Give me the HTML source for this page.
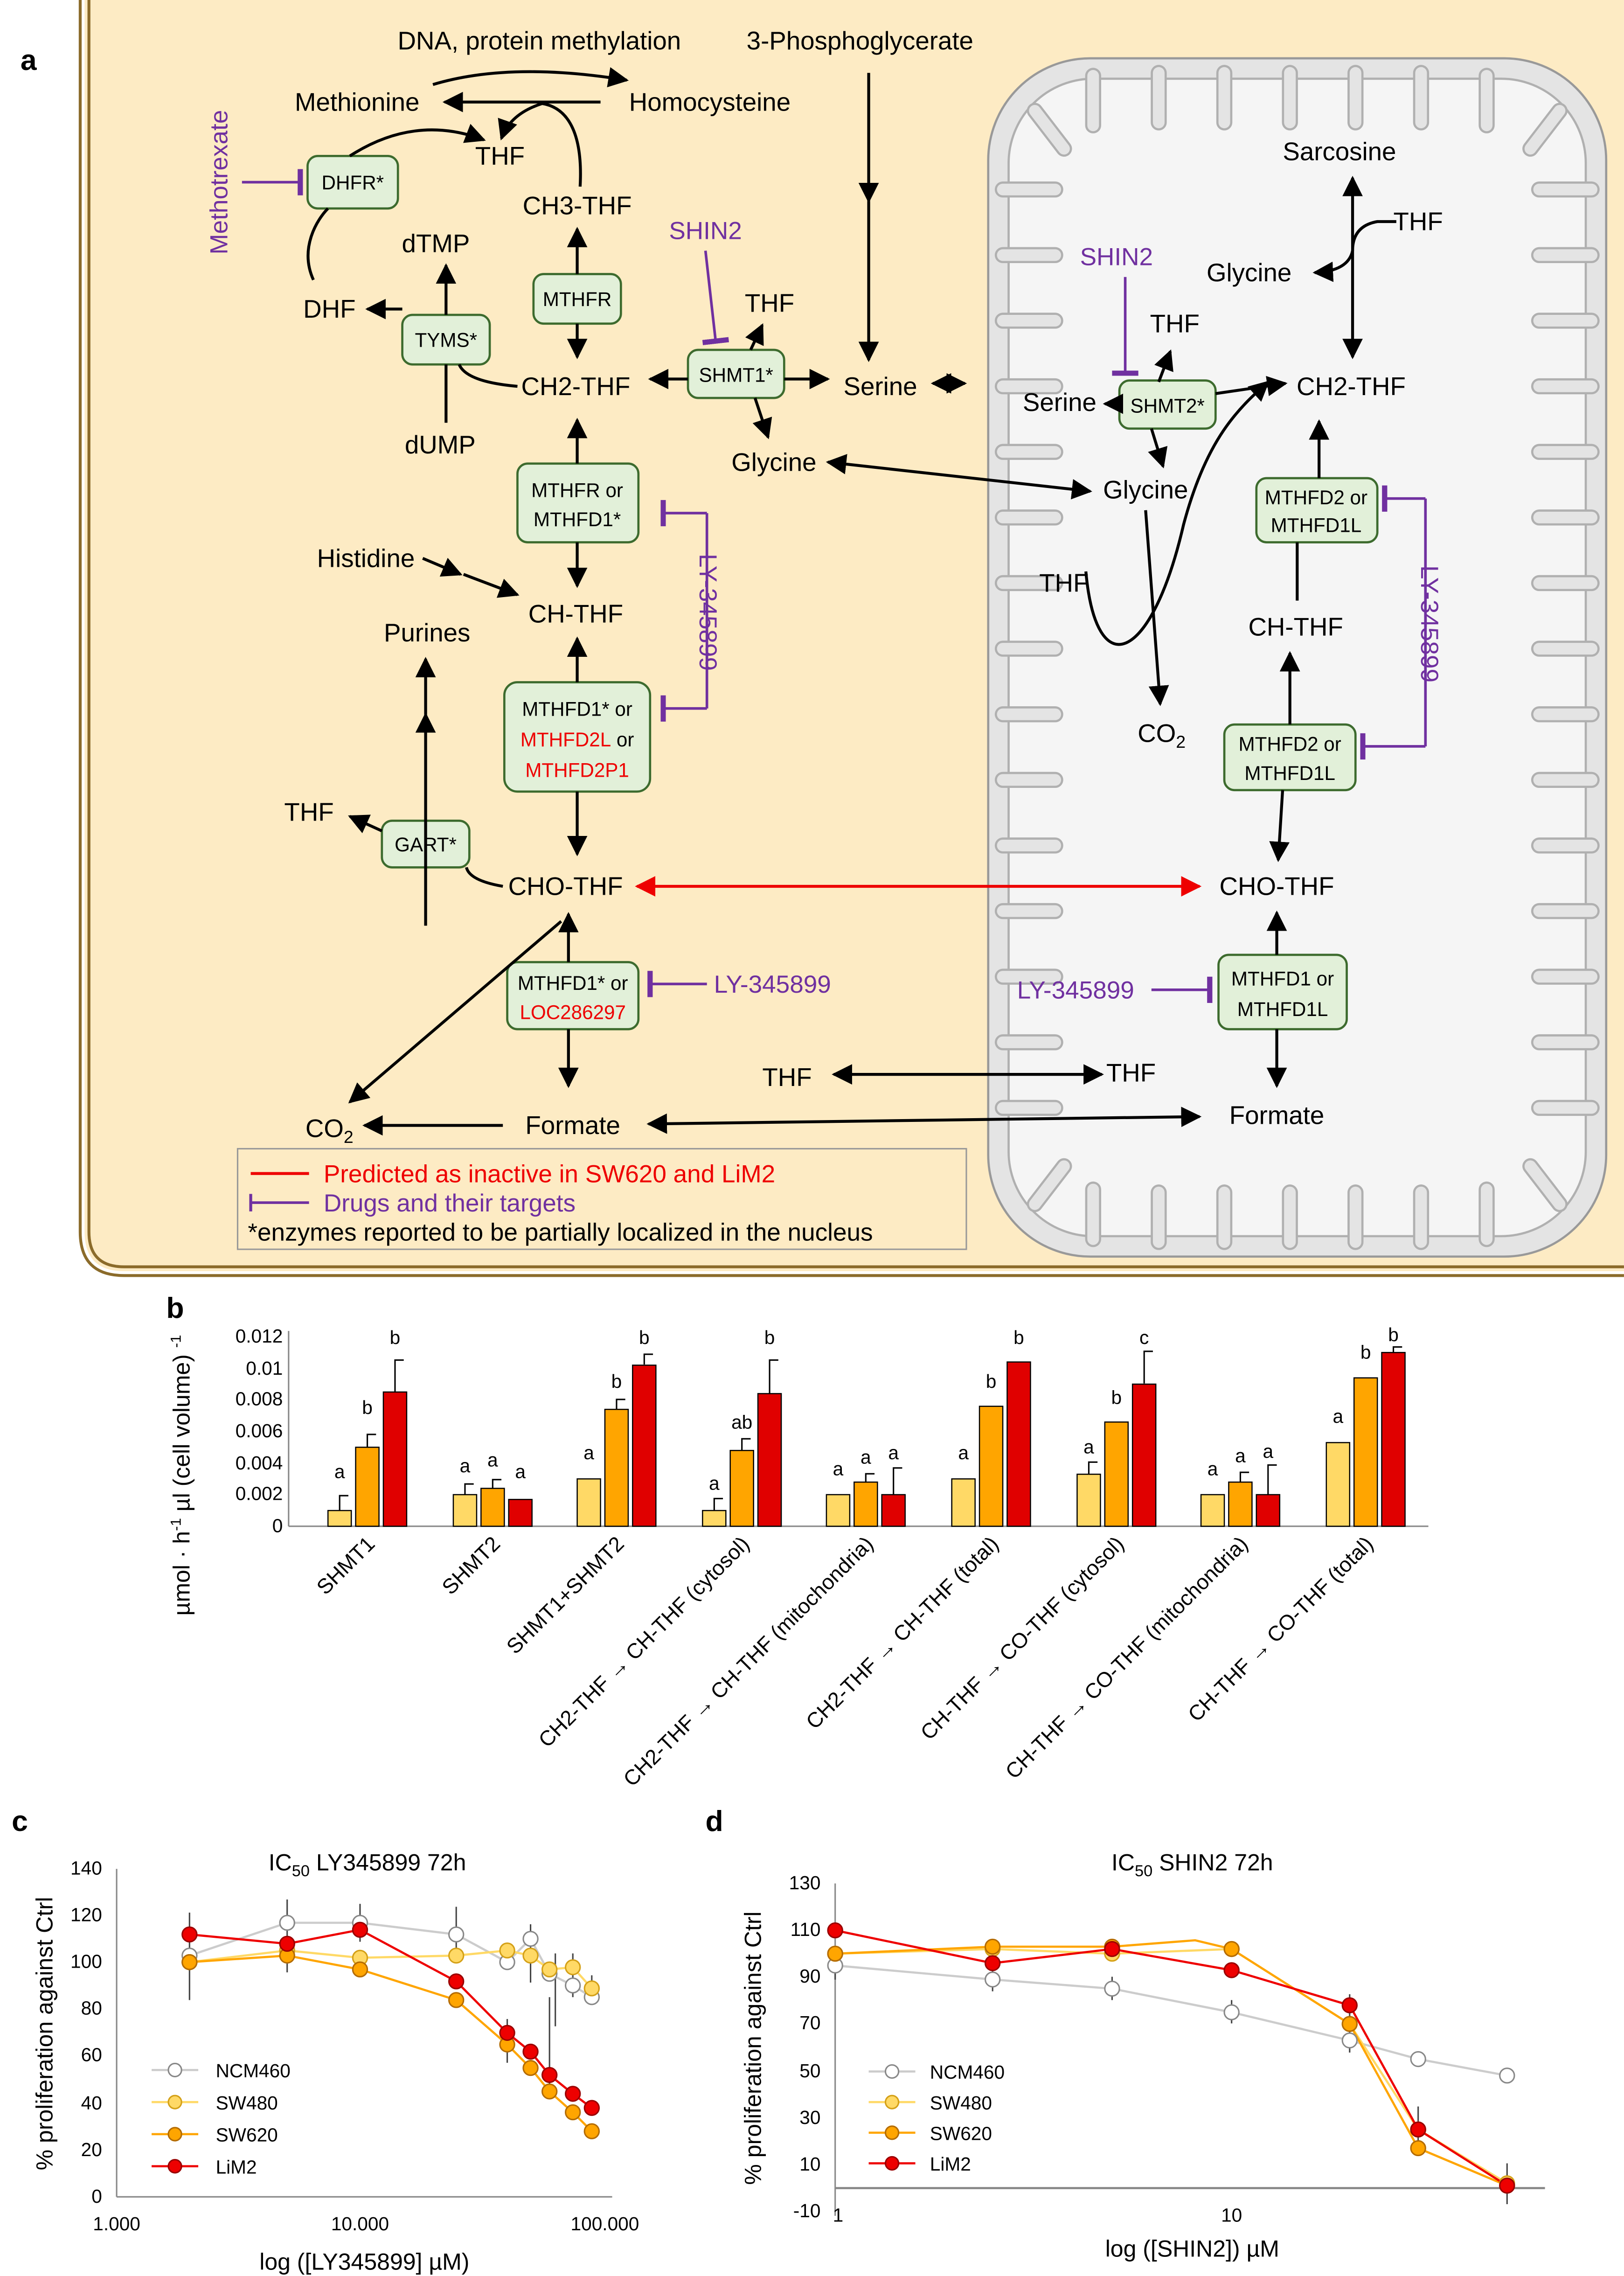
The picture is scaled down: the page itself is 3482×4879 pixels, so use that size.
<!DOCTYPE html>
<html><head><meta charset="utf-8"><style>html,body{margin:0;padding:0;background:#fff}svg{display:block}</style></head>
<body>
<svg xmlns="http://www.w3.org/2000/svg" width="3482" height="4879" viewBox="0 0 1114.2 1561.3" font-family="'Liberation Sans', sans-serif">
<defs>
<marker id="ar" viewBox="0 0 10 10" refX="9" refY="5" markerWidth="7" markerHeight="7" orient="auto-start-reverse"><path d="M0,0L10,5L0,10z" fill="#000"/></marker>
<marker id="arr" viewBox="0 0 10 10" refX="9" refY="5" markerWidth="7" markerHeight="7" orient="auto-start-reverse"><path d="M0,0L10,5L0,10z" fill="#e00"/></marker>
<marker id="bar" viewBox="0 0 4 20" refX="2" refY="10" markerWidth="2" markerHeight="12" orient="auto"><rect x="0" y="0" width="4" height="20" fill="#7030a0"/></marker>
<path id="cr" fill="none" stroke-linecap="round" d="M688,130h36M688,175h36M688,220h36M688,265h36M688,310h36M688,355h36M688,400h36M688,445h36M688,490h36M688,535h36M688,580h36M688,625h36M688,670h36M688,715h36M688,760h36
M1092,130h-36M1092,175h-36M1092,220h-36M1092,265h-36M1092,310h-36M1092,355h-36M1092,400h-36M1092,445h-36M1092,490h-36M1092,535h-36M1092,580h-36M1092,625h-36M1092,670h-36M1092,715h-36M1092,760h-36
M710,76l20,26M750,52v34M795,50v34M840,50v34M885,50v34M930,50v34M975,50v34M1020,52v34M1070,76l-20,26
M710,826l20,-26M750,850v-34M795,852v-34M840,852v-34M885,852v-34M930,852v-34M975,852v-34M1020,850v-34M1070,826l-20,-26"/>
</defs>
<rect width="1114.2" height="1561.3" fill="#fff"/>
<!-- cell -->
<path d="M58,0 V845 Q58,872 85,872 H1114.2 V0 Z" fill="#fdebc4"/>
<path d="M55,0 V845 Q55,875 85,875 H1114.2" fill="none" stroke="#8b6b2a" stroke-width="2"/>
<path d="M61,0 V845 Q61,869 85,869 H1114.2" fill="none" stroke="#8b6b2a" stroke-width="2"/>
<text x="14" y="48" font-size="20" font-weight="bold">a</text>
<!-- mitochondrion -->
<rect x="678" y="40" width="424" height="822" rx="70" fill="#e4e4e4" stroke="#999" stroke-width="1.5"/>
<rect x="692" y="54" width="396" height="794" rx="58" fill="#f5f5f5" stroke="#b0b0b0" stroke-width="1.5"/>
<use href="#cr" stroke="#b0b0b0" stroke-width="11"/>
<use href="#cr" stroke="#e4e4e4" stroke-width="8"/>
<g font-size="17.5" text-anchor="middle" fill="#000">
<text x="370" y="34">DNA, protein methylation</text>
<text x="590" y="34">3-Phosphoglycerate</text>
<text x="245" y="76">Methionine</text>
<text x="487" y="76">Homocysteine</text>
<text x="343" y="113">THF</text>
<text x="396" y="147">CH3-THF</text>
<text x="299" y="173">dTMP</text>
<text x="226" y="218">DHF</text>
<text x="395" y="271">CH2-THF</text>
<text x="302" y="311">dUMP</text>
<text x="528" y="214">THF</text>
<text x="604" y="271">Serine</text>
<text x="531" y="323">Glycine</text>
<text x="251" y="389">Histidine</text>
<text x="395" y="427">CH-THF</text>
<text x="293" y="440">Purines</text>
<text x="212" y="563">THF</text>
<text x="388" y="614">CHO-THF</text>
<text x="540" y="745">THF</text>
<text x="226" y="780">CO<tspan font-size="12" dy="4">2</tspan></text>
<text x="393" y="778">Formate</text>
<text x="919" y="110">Sarcosine</text>
<text x="973" y="158">THF</text>
<text x="857" y="193">Glycine</text>
<text x="806" y="228">THF</text>
<text x="727" y="282">Serine</text>
<text x="927" y="271">CH2-THF</text>
<text x="786" y="342">Glycine</text>
<text x="730" y="406">THF</text>
<text x="889" y="436">CH-THF</text>
<text x="797" y="509">CO<tspan font-size="12" dy="4">2</tspan></text>
<text x="876" y="614">CHO-THF</text>
<text x="776" y="742">THF</text>
<text x="876" y="771">Formate</text>
</g>
<g font-size="17" fill="#7030a0" text-anchor="middle">
<text x="484" y="164">SHIN2</text>
<text x="766" y="182">SHIN2</text>
<text transform="translate(156,125) rotate(-90)">Methotrexate</text>
<text transform="translate(480,420) rotate(90)">LY-345899</text>
<text transform="translate(975,428) rotate(90)">LY-345899</text>
<text x="530" y="681">LY-345899</text>
<text x="738" y="685">LY-345899</text>
</g>
<!-- enzyme boxes -->
<g fill="#e2f0d9" stroke="#3d6b2e" stroke-width="1.5">
<rect x="211" y="107" width="62" height="36" rx="7"/>
<rect x="276" y="216" width="60" height="34" rx="7"/>
<rect x="366" y="188" width="60" height="34" rx="7"/>
<rect x="472" y="240" width="66" height="33" rx="7"/>
<rect x="355" y="318" width="83" height="54" rx="7"/>
<rect x="346" y="468" width="100" height="75" rx="9"/>
<rect x="262" y="563" width="60" height="32" rx="7"/>
<rect x="348" y="660" width="90" height="46" rx="7"/>
<rect x="768" y="261" width="66" height="33" rx="7"/>
<rect x="862" y="328" width="83" height="44" rx="7"/>
<rect x="840" y="497" width="90" height="45" rx="7"/>
<rect x="836" y="655" width="88" height="51" rx="7"/>
</g>
<g font-size="13.5" text-anchor="middle" fill="#000">
<text x="242" y="130">DHFR*</text>
<text x="306" y="238">TYMS*</text>
<text x="396" y="210">MTHFR</text>
<text x="505" y="262">SHMT1*</text>
<text x="396" y="341">MTHFR or</text><text x="396" y="361">MTHFD1*</text>
<text x="396" y="491">MTHFD1* or</text>
<text x="396" y="512"><tspan fill="#e00">MTHFD2L</tspan> or</text>
<text x="396" y="533" fill="#e00">MTHFD2P1</text>
<text x="292" y="584">GART*</text>
<text x="393" y="679">MTHFD1* or</text><text x="393" y="699" fill="#e00">LOC286297</text>
<text x="801" y="283">SHMT2*</text>
<text x="903" y="346">MTHFD2 or</text><text x="903" y="365">MTHFD1L</text>
<text x="885" y="515">MTHFD2 or</text><text x="885" y="535">MTHFD1L</text>
<text x="880" y="676">MTHFD1 or</text><text x="880" y="697">MTHFD1L</text>
</g>
<!-- arrows -->
<g stroke="#000" stroke-width="2" fill="none">
<path d="M297,58 Q350,42 430,55" marker-end="url(#ar)"/>
<path d="M412,70 H305" marker-end="url(#ar)"/>
<path d="M398,128 C400,92 390,74 372,71"/>
<path d="M372,71 Q350,78 344,95" marker-end="url(#ar)"/>
<path d="M240,107 Q285,78 332,96" marker-end="url(#ar)"/>
<path d="M215,192 C205,170 218,150 225,143"/>
<path d="M396,188 V157" marker-end="url(#ar)"/>
<path d="M396,222 V245" marker-end="url(#ar)"/>
<path d="M306,216 V182" marker-end="url(#ar)"/>
<path d="M306,250 V290"/>
<path d="M276,212 H252" marker-end="url(#ar)"/>
<path d="M355,265 Q320,262 315,250"/>
<path d="M472,260 H446" marker-end="url(#ar)"/>
<path d="M538,260 H568" marker-end="url(#ar)"/>
<path d="M515,240 L523,223" marker-end="url(#ar)"/>
<path d="M518,273 L527,300" marker-end="url(#ar)"/>
<path d="M640,263 H662" marker-start="url(#ar)" marker-end="url(#ar)"/>
<path d="M596,50 V138" marker-end="url(#ar)"/>
<path d="M596,138 V247" marker-end="url(#ar)"/>
<path d="M396,318 V288" marker-end="url(#ar)"/>
<path d="M396,372 V402" marker-end="url(#ar)"/>
<path d="M290,383 L316,394" marker-end="url(#ar)"/>
<path d="M318,394 L355,408" marker-end="url(#ar)"/>
<path d="M396,468 V438" marker-end="url(#ar)"/>
<path d="M396,543 V586" marker-end="url(#ar)"/>
<path d="M292,635 V490" marker-end="url(#ar)"/>
<path d="M292,490 V452" marker-end="url(#ar)"/>
<path d="M262,570 L240,560" marker-end="url(#ar)"/>
<path d="M345,608 Q322,604 320,595"/>
<path d="M390,660 V627" marker-end="url(#ar)"/>
<path d="M390,706 V745" marker-end="url(#ar)"/>
<path d="M385,632 L240,756" marker-end="url(#ar)"/>
<path d="M345,772 H250" marker-end="url(#ar)"/>
<path d="M445,771 L823,766" marker-start="url(#ar)" marker-end="url(#ar)"/>
<path d="M572,737 H756" marker-start="url(#ar)" marker-end="url(#ar)"/>
<path d="M928,122 V245" marker-start="url(#ar)" marker-end="url(#ar)"/>
<path d="M958,152 H945 Q928,155 928,172 Q925,186 902,187" marker-end="url(#ar)"/>
<path d="M795,262 L803,241" marker-end="url(#ar)"/>
<path d="M768,277 H758" marker-end="url(#ar)"/>
<path d="M834,270 L882,263" marker-end="url(#ar)"/>
<path d="M790,294 L798,320" marker-end="url(#ar)"/>
<path d="M568,317 L748,337" marker-start="url(#ar)" marker-end="url(#ar)"/>
<path d="M745,392 C752,470 790,455 812,360 C828,300 850,280 870,262" marker-end="url(#ar)"/>
<path d="M786,350 L796,483" marker-end="url(#ar)"/>
<path d="M905,328 V289" marker-end="url(#ar)"/>
<path d="M890,372 V412"/>
<path d="M885,497 V448" marker-end="url(#ar)"/>
<path d="M880,542 L877,590" marker-end="url(#ar)"/>
<path d="M876,655 V626" marker-end="url(#ar)"/>
<path d="M876,706 V745" marker-end="url(#ar)"/>
</g>
<path d="M437,608 H823" stroke="#e00" stroke-width="2" fill="none" marker-start="url(#arr)" marker-end="url(#arr)"/>
<g stroke="#7030a0" stroke-width="1.8" fill="none">
<path d="M166,125 H206" marker-end="url(#bar)"/>
<path d="M484,172 L491,234" marker-end="url(#bar)"/>
<path d="M772,190 L772,256" marker-end="url(#bar)"/>
<path d="M485,352 H455" marker-end="url(#bar)"/>
<path d="M485,352 V486"/>
<path d="M485,486 H455" marker-end="url(#bar)"/>
<path d="M485,675 H446" marker-end="url(#bar)"/>
<path d="M978,342 H950" marker-end="url(#bar)"/>
<path d="M978,342 V512"/>
<path d="M978,512 H935" marker-end="url(#bar)"/>
<path d="M790,679 H830" marker-end="url(#bar)"/>
</g>
<!-- legend -->
<rect x="163" y="788" width="500" height="69" fill="#fdebc4" stroke="#999" stroke-width="1"/>
<line x1="172" y1="805" x2="212" y2="805" stroke="#e00" stroke-width="2"/>
<text x="222" y="811" font-size="17" fill="#e00">Predicted as inactive in SW620 and LiM2</text>
<line x1="172" y1="825" x2="212" y2="825" stroke="#7030a0" stroke-width="1.8"/><line x1="172" y1="819" x2="172" y2="831" stroke="#7030a0" stroke-width="2"/>
<text x="222" y="831" font-size="17" fill="#7030a0">Drugs and their targets</text>
<text x="170" y="851" font-size="17">*enzymes reported to be partially localized in the nucleus</text>

<!-- panel b -->
<text x="114" y="904" font-size="20" font-weight="bold">b</text>
<text transform="translate(130,1012) rotate(-90)" font-size="16" text-anchor="middle">µmol · h<tspan font-size="10" dy="-6">-1</tspan><tspan dy="6"> µl (cell volume) </tspan><tspan font-size="10" dy="-6">-1</tspan></text>
<g font-size="13" text-anchor="end">
<text x="194" y="921">0.012</text><text x="194" y="943">0.01</text><text x="194" y="964">0.008</text><text x="194" y="986">0.006</text><text x="194" y="1008">0.004</text><text x="194" y="1029">0.002</text><text x="194" y="1051">0</text>
</g>
<line x1="198" y1="913" x2="198" y2="1047" stroke="#888"/>
<line x1="198" y1="1047" x2="980" y2="1047" stroke="#888"/>
<g stroke="#000" stroke-width="0.8">
<rect x="225" y="1036.2" width="16" height="10.8" fill="#ffd966"/><rect x="244" y="992.8" width="16" height="54.2" fill="#ffa500"/><rect x="263" y="954.9" width="16" height="92.1" fill="#e00000"/>
<rect x="311" y="1025.3" width="16" height="21.7" fill="#ffd966"/><rect x="330" y="1021" width="16" height="26" fill="#ffa500"/><rect x="349" y="1028.6" width="16" height="18.4" fill="#e00000"/>
<rect x="396" y="1014.5" width="16" height="32.5" fill="#ffd966"/><rect x="415" y="966.8" width="16" height="80.2" fill="#ffa500"/><rect x="434" y="936.5" width="16" height="110.5" fill="#e00000"/>
<rect x="482" y="1036.2" width="16" height="10.8" fill="#ffd966"/><rect x="501" y="995" width="16" height="52" fill="#ffa500"/><rect x="520" y="956" width="16" height="91" fill="#e00000"/>
<rect x="567" y="1025.3" width="16" height="21.7" fill="#ffd966"/><rect x="586" y="1016.7" width="16" height="30.3" fill="#ffa500"/><rect x="605" y="1025.3" width="16" height="21.7" fill="#e00000"/>
<rect x="653" y="1014.5" width="16" height="32.5" fill="#ffd966"/><rect x="672" y="964.7" width="16" height="82.3" fill="#ffa500"/><rect x="691" y="934.3" width="16" height="112.7" fill="#e00000"/>
<rect x="739" y="1011.3" width="16" height="35.7" fill="#ffd966"/><rect x="758" y="975.5" width="16" height="71.5" fill="#ffa500"/><rect x="777" y="949.5" width="16" height="97.5" fill="#e00000"/>
<rect x="824" y="1025.3" width="16" height="21.7" fill="#ffd966"/><rect x="843" y="1016.7" width="16" height="30.3" fill="#ffa500"/><rect x="862" y="1025.3" width="16" height="21.7" fill="#e00000"/>
<rect x="910" y="989.6" width="16" height="57.4" fill="#ffd966"/><rect x="929" y="945.2" width="16" height="101.8" fill="#ffa500"/><rect x="948" y="927.8" width="16" height="119.2" fill="#e00000"/>
</g>
<g stroke="#000" stroke-width="1" fill="none">
<path d="M233,1036v-10h6M252,993v-9h6M271,955v-22h6M319,1025v-7h6M338,1021v-6h6M423,967v-7h6M442,936v-7h6M490,1036v-8h6M509,995v-8h6M528,956v-23h6M594,1017v-6h6M613,1025v-18h6M747,1011v-8h6M785,949v-22h6M851,1017v-7h6M870,1025v-20h6M956,928v-4h6"/>
</g>
<g font-size="13" text-anchor="middle">
<text x="233" y="1014">a</text><text x="252" y="970">b</text><text x="271" y="922">b</text>
<text x="319" y="1010">a</text><text x="338" y="1006">a</text><text x="357" y="1014">a</text>
<text x="404" y="1001">a</text><text x="423" y="952">b</text><text x="442" y="922">b</text>
<text x="490" y="1022">a</text><text x="509" y="980">ab</text><text x="528" y="922">b</text>
<text x="575" y="1012">a</text><text x="594" y="1004">a</text><text x="613" y="1001">a</text>
<text x="661" y="1001">a</text><text x="680" y="952">b</text><text x="699" y="922">b</text>
<text x="747" y="997">a</text><text x="766" y="963">b</text><text x="785" y="922">c</text>
<text x="832" y="1012">a</text><text x="851" y="1003">a</text><text x="870" y="1000">a</text>
<text x="918" y="976">a</text><text x="937" y="932">b</text><text x="956" y="920">b</text>
</g>
<g font-size="14.5" text-anchor="end">
<text transform="translate(258,1060) rotate(-45)">SHMT1</text>
<text transform="translate(344,1060) rotate(-45)">SHMT2</text>
<text transform="translate(429,1060) rotate(-45)">SHMT1+SHMT2</text>
<text transform="translate(515,1060) rotate(-45)">CH2-THF → CH-THF (cytosol)</text>
<text transform="translate(600,1060) rotate(-45)">CH2-THF → CH-THF (mitochondria)</text>
<text transform="translate(686,1060) rotate(-45)">CH2-THF → CH-THF (total)</text>
<text transform="translate(772,1060) rotate(-45)">CH-THF → CO-THF (cytosol)</text>
<text transform="translate(857,1060) rotate(-45)">CH-THF → CO-THF (mitochondria)</text>
<text transform="translate(943,1060) rotate(-45)">CH-THF → CO-THF (total)</text>
</g>

<!-- panel c -->
<text x="8" y="1256" font-size="20" font-weight="bold">c</text>
<text x="252" y="1283" font-size="16" text-anchor="middle">IC<tspan font-size="11" dy="4">50</tspan><tspan dy="-4"> LY345899 72h</tspan></text>
<text transform="translate(36,1395) rotate(-90)" font-size="16" text-anchor="middle">% proliferation against Ctrl</text>
<g font-size="13" text-anchor="end">
<text x="70" y="1286">140</text><text x="70" y="1318">120</text><text x="70" y="1350">100</text><text x="70" y="1382">80</text><text x="70" y="1414">60</text><text x="70" y="1447">40</text><text x="70" y="1479">20</text><text x="70" y="1511">0</text>
</g>
<line x1="80" y1="1282" x2="80" y2="1507" stroke="#888"/><line x1="80" y1="1507" x2="420" y2="1507" stroke="#888"/>
<g font-size="13" text-anchor="middle"><text x="80" y="1530">1.000</text><text x="247" y="1530">10.000</text><text x="415" y="1530">100.000</text></g>
<text x="250" y="1557" font-size="16" text-anchor="middle">log ([LY345899] µM)</text>
<g fill="none" stroke-width="1.5">
<polyline stroke="#ccc" points="130,1341.5 197,1319 247,1319 313,1327 348,1346 364,1330 377,1354 393,1362 406,1370"/>
<polyline stroke="#ffd966" points="130,1346 197,1338 247,1343 313,1341.5 348,1338 364,1341.5 377,1351 393,1349.5 406,1364"/>
<polyline stroke="#ffa500" points="130,1346 197,1341.5 247,1351 313,1372 348,1402.5 364,1418.6 377,1434.7 393,1449 406,1462"/>
<polyline stroke="#e00" points="130,1327 197,1333.4 247,1323.8 313,1359.2 348,1394.5 364,1407.4 377,1423.4 393,1436.3 406,1446"/>
<path stroke="#444" stroke-width="1" d="M130,1312v60M197,1303v50M247,1306v26M313,1308v36M348,1385v30M364,1320v40M377,1370v70M381,1340v50M393,1340v30M406,1355v20"/>
</g>
<g stroke-width="1">
<g fill="#fff" stroke="#888"><circle cx="130" cy="1341.5" r="5"/><circle cx="197" cy="1319" r="5"/><circle cx="247" cy="1319" r="5"/><circle cx="313" cy="1327" r="5"/><circle cx="348" cy="1346" r="5"/><circle cx="364" cy="1330" r="5"/><circle cx="377" cy="1354" r="5"/><circle cx="393" cy="1362" r="5"/><circle cx="406" cy="1370" r="5"/></g>
<g fill="#ffd966" stroke="#d4a017"><circle cx="130" cy="1346" r="5"/><circle cx="197" cy="1338" r="5"/><circle cx="247" cy="1343" r="5"/><circle cx="313" cy="1341.5" r="5"/><circle cx="348" cy="1338" r="5"/><circle cx="364" cy="1341.5" r="5"/><circle cx="377" cy="1351" r="5"/><circle cx="393" cy="1349.5" r="5"/><circle cx="406" cy="1364" r="5"/></g>
<g fill="#ffa500" stroke="#b36b00"><circle cx="130" cy="1346" r="5"/><circle cx="197" cy="1341.5" r="5"/><circle cx="247" cy="1351" r="5"/><circle cx="313" cy="1372" r="5"/><circle cx="348" cy="1402.5" r="5"/><circle cx="364" cy="1418.6" r="5"/><circle cx="377" cy="1434.7" r="5"/><circle cx="393" cy="1449" r="5"/><circle cx="406" cy="1462" r="5"/></g>
<g fill="#e00" stroke="#900"><circle cx="130" cy="1327" r="5"/><circle cx="197" cy="1333.4" r="5"/><circle cx="247" cy="1323.8" r="5"/><circle cx="313" cy="1359.2" r="5"/><circle cx="348" cy="1394.5" r="5"/><circle cx="364" cy="1407.4" r="5"/><circle cx="377" cy="1423.4" r="5"/><circle cx="393" cy="1436.3" r="5"/><circle cx="406" cy="1446" r="5"/></g>
</g>
<g font-size="13">
<line x1="104" y1="1420" x2="136" y2="1420" stroke="#ccc" stroke-width="1.5"/><circle cx="120" cy="1420" r="4.5" fill="#fff" stroke="#888"/><text x="148" y="1425">NCM460</text>
<line x1="104" y1="1442" x2="136" y2="1442" stroke="#ffd966" stroke-width="1.5"/><circle cx="120" cy="1442" r="4.5" fill="#ffd966" stroke="#d4a017"/><text x="148" y="1447">SW480</text>
<line x1="104" y1="1464" x2="136" y2="1464" stroke="#ffa500" stroke-width="1.5"/><circle cx="120" cy="1464" r="4.5" fill="#ffa500" stroke="#b36b00"/><text x="148" y="1469">SW620</text>
<line x1="104" y1="1486" x2="136" y2="1486" stroke="#e00" stroke-width="1.5"/><circle cx="120" cy="1486" r="4.5" fill="#e00" stroke="#900"/><text x="148" y="1491">LiM2</text>
</g>

<!-- panel d -->
<text x="484" y="1256" font-size="20" font-weight="bold">d</text>
<text x="818" y="1283" font-size="16" text-anchor="middle">IC<tspan font-size="11" dy="4">50</tspan><tspan dy="-4"> SHIN2 72h</tspan></text>
<text transform="translate(522,1405) rotate(-90)" font-size="16" text-anchor="middle">% proliferation against Ctrl</text>
<g font-size="13" text-anchor="end">
<text x="563" y="1296">130</text><text x="563" y="1328">110</text><text x="563" y="1360">90</text><text x="563" y="1392">70</text><text x="563" y="1425">50</text><text x="563" y="1457">30</text><text x="563" y="1489">10</text><text x="563" y="1521">-10</text>
</g>
<line x1="573" y1="1292" x2="573" y2="1520" stroke="#888"/><line x1="573" y1="1501" x2="1060" y2="1501" stroke="#888" stroke-width="1.5"/>
<g font-size="13" text-anchor="middle"><text x="575" y="1524">1</text><text x="845" y="1524">10</text></g>
<text x="818" y="1548" font-size="16" text-anchor="middle">log ([SHIN2]) µM</text>
<g fill="none" stroke-width="1.5">
<polyline stroke="#ccc" points="573,1348.3 681,1357.9 763,1364.2 845,1380.4 926,1399.7 973,1412.5 1034,1423.8"/>
<polyline stroke="#ffd966" points="573,1340.2 681,1337 763,1340.2 845,1337 926,1388.4 973,1460.8 1034,1497.7"/>
<polyline stroke="#ffa500" points="573,1340.2 681,1335.4 763,1335.4 820,1331 845,1337 926,1388.4 973,1473.6 1034,1499.3"/>
<polyline stroke="#e00" points="573,1324.2 681,1346.7 763,1337 845,1351.5 926,1375.6 973,1460.8 1034,1499.3"/>
<path stroke="#444" stroke-width="1" d="M573,1338v20M681,1350v16M763,1356v16M845,1372v16M926,1368v40M973,1445v30M1034,1484v28"/>
</g>
<g stroke-width="1">
<g fill="#fff" stroke="#888"><circle cx="573" cy="1348.3" r="5"/><circle cx="681" cy="1357.9" r="5"/><circle cx="763" cy="1364.2" r="5"/><circle cx="845" cy="1380.4" r="5"/><circle cx="926" cy="1399.7" r="5"/><circle cx="973" cy="1412.5" r="5"/><circle cx="1034" cy="1423.8" r="5"/></g>
<g fill="#ffd966" stroke="#d4a017"><circle cx="573" cy="1340.2" r="5"/><circle cx="681" cy="1337" r="5"/><circle cx="763" cy="1340.2" r="5"/><circle cx="845" cy="1337" r="5"/><circle cx="926" cy="1388.4" r="5"/><circle cx="973" cy="1460.8" r="5"/><circle cx="1034" cy="1497.7" r="5"/></g>
<g fill="#ffa500" stroke="#b36b00"><circle cx="573" cy="1340.2" r="5"/><circle cx="681" cy="1335.4" r="5"/><circle cx="763" cy="1335.4" r="5"/><circle cx="845" cy="1337" r="5"/><circle cx="926" cy="1388.4" r="5"/><circle cx="973" cy="1473.6" r="5"/><circle cx="1034" cy="1499.3" r="5"/></g>
<g fill="#e00" stroke="#900"><circle cx="573" cy="1324.2" r="5"/><circle cx="681" cy="1346.7" r="5"/><circle cx="763" cy="1337" r="5"/><circle cx="845" cy="1351.5" r="5"/><circle cx="926" cy="1375.6" r="5"/><circle cx="973" cy="1460.8" r="5"/><circle cx="1034" cy="1499.3" r="5"/></g>
</g>
<g font-size="13">
<line x1="596" y1="1421" x2="628" y2="1421" stroke="#ccc" stroke-width="1.5"/><circle cx="612" cy="1421" r="4.5" fill="#fff" stroke="#888"/><text x="638" y="1426">NCM460</text>
<line x1="596" y1="1442" x2="628" y2="1442" stroke="#ffd966" stroke-width="1.5"/><circle cx="612" cy="1442" r="4.5" fill="#ffd966" stroke="#d4a017"/><text x="638" y="1447">SW480</text>
<line x1="596" y1="1463" x2="628" y2="1463" stroke="#ffa500" stroke-width="1.5"/><circle cx="612" cy="1463" r="4.5" fill="#ffa500" stroke="#b36b00"/><text x="638" y="1468">SW620</text>
<line x1="596" y1="1484" x2="628" y2="1484" stroke="#e00" stroke-width="1.5"/><circle cx="612" cy="1484" r="4.5" fill="#e00" stroke="#900"/><text x="638" y="1489">LiM2</text>
</g>
</svg>
</body></html>
